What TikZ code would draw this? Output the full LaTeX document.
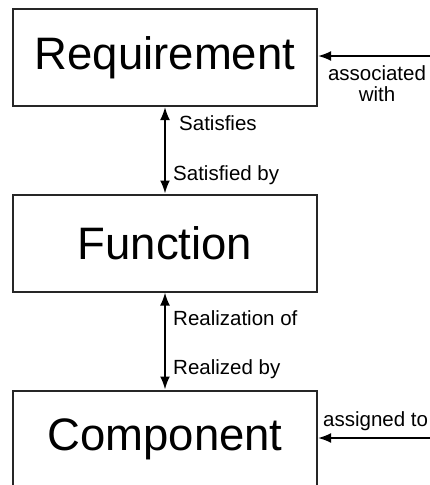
\documentclass[tikz,border=0pt]{standalone}
\usepackage{fontspec}
\setmainfont{Liberation Sans}
\usetikzlibrary{arrows.meta}
\begin{document}
\begin{tikzpicture}[x=1pt,y=1pt,
  box/.style={draw=black!85, line width=2pt, minimum width=304pt, minimum height=97pt, inner sep=0pt, font=\fontsize{45.5}{46}\selectfont},
  lbl/.style={inner sep=0pt, font=\fontsize{20.5}{22}\selectfont},
  arr/.style={line width=2pt, -{Latex[length=13pt,width=10pt]}},
  darr/.style={line width=2pt, {Latex[length=13pt,width=10pt]}-{Latex[length=13pt,width=10pt]}}]
\useasboundingbox (0,0) rectangle (429,-485);
\node[box] (req) at (165,-57.5) {Requirement};
\node[box] (fun) at (165,-243) {Function};
\node[box] (com) at (165,-439) {Component};
\draw[darr] (req.south) -- (fun.north);
\draw[darr] (fun.south) -- (com.north);
\coordinate (a1) at (432,-56);
\coordinate (a2) at (432,-438);
\draw[arr] (a1) -- (req.east |- a1);
\draw[arr] (a2) -- (com.east |- a2);
\node[lbl, anchor=west] (s1) at (179,-123) {Satisfies};
\node[lbl, anchor=west] (s2) at (173,-175) {Satisfied by};
\node[lbl, anchor=west] (r1) at (173,-318) {Realization of};
\node[lbl, anchor=west] (r2) at (173,-369) {Realized by};
\node[lbl, align=center] (as) at (377,-84) {associated\\[-1pt]with};
\node[lbl, anchor=west] (ag) at (323,-421) {assigned to};
\end{tikzpicture}
\end{document}
